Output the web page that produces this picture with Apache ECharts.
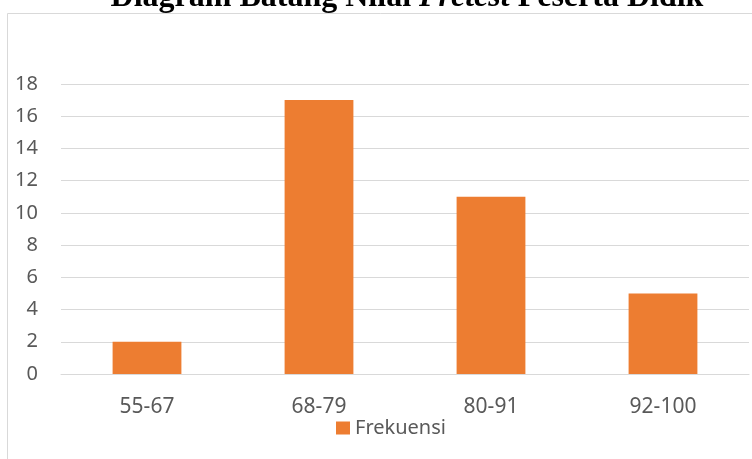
<!DOCTYPE html>
<html>
<head>
<meta charset="utf-8">
<script src="https://cdn.jsdelivr.net/npm/echarts@6/dist/echarts.min.js"></script>
<style>
html,body{margin:0;padding:0;background:#fff;}
#chart{width:752px;height:459px;}
</style>
</head>
<body>
<div id="chart"></div>
<script>
const categories = ['55-67', '68-79', '80-91', '92-100'];
const frekuensi = [2, 17, 11, 5];
const seriesName = 'Frekuensi';
const titleParts = ['Diagram Batang Nilai ', 'Pretest', ' Peserta Didik'];

const chart = echarts.init(document.getElementById('chart'), null, {renderer: 'canvas'});
chart.setOption({
  animation: false,
  backgroundColor: '#ffffff',
  graphic: [
    {
      type: 'rect',
      shape: {x: 7.5, y: 13.5, width: 900, height: 600},
      style: {fill: 'none', stroke: '#d9d9d9', lineWidth: 1},
      z: -1
    },
    {
      type: 'text',
      x: 407, y: -2,
      style: {
        text: '{a|' + titleParts[0] + '}{b|' + titleParts[1] + '}{a|' + titleParts[2] + '}',
        align: 'center',
        verticalAlign: 'middle',
        rich: {
          a: {fontFamily: 'Liberation Serif', fontWeight: 'bold', fontSize: 32, fill: '#000'},
          b: {fontFamily: 'Liberation Serif', fontWeight: 'bold', fontStyle: 'italic', fontSize: 32, fill: '#000'}
        }
      }
    }
  ],
  legend: {
    left: 336, top: 418,
    padding: 0,
    itemWidth: 14, itemHeight: 13,
    itemGap: 10,
    icon: 'rect',
    textStyle: {fontFamily: 'Noto Sans', fontSize: 20, color: '#595959'},
    data: [seriesName]
  },
  grid: {left: 61, right: 3, top: 84, bottom: 85, containLabel: false},
  xAxis: {
    type: 'category',
    data: categories,
    axisLine: {lineStyle: {color: '#d9d9d9', width: 1}},
    axisTick: {show: false},
    axisLabel: {fontFamily: 'Noto Sans', fontSize: 21, color: '#595959', margin: 23}
  },
  yAxis: {
    type: 'value',
    min: 0, max: 18, interval: 2,
    axisLine: {show: false},
    axisTick: {show: false},
    splitLine: {lineStyle: {color: '#d9d9d9', width: 1}},
    axisLabel: {fontFamily: 'Noto Sans', fontSize: 20, color: '#595959', margin: 23}
  },
  series: [{
    name: seriesName,
    type: 'bar',
    data: frekuensi,
    barWidth: '40%',
    itemStyle: {color: '#ED7D31'}
  }]
});
</script>
</body>
</html>
